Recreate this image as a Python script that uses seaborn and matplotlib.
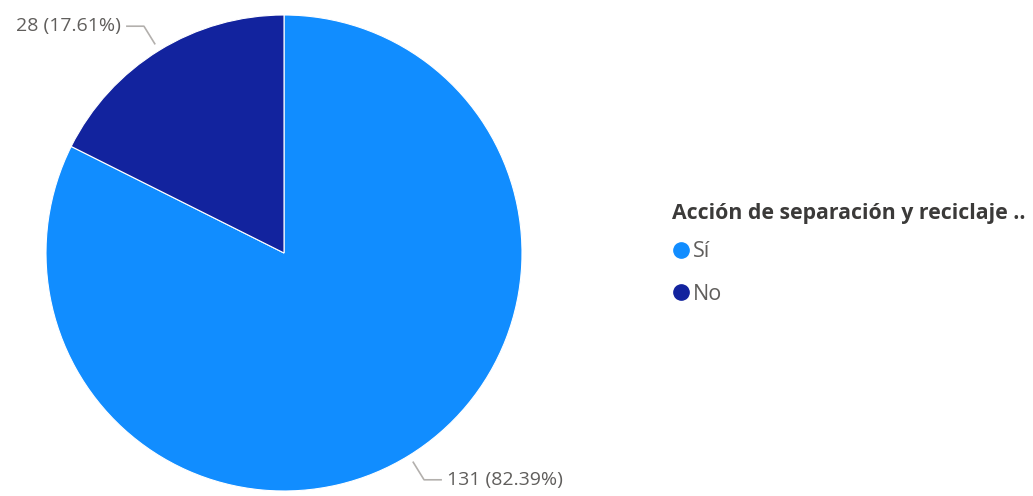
import numpy as np
import matplotlib
matplotlib.use("Agg")
import matplotlib.pyplot as plt
import seaborn as sns
from matplotlib.lines import Line2D

# Data
categories = ["Sí", "No"]
counts = [131, 28]
colors = ["#118DFF", "#12239E"]
legend_title = "Acción de separación y reciclaje .."

sns.set_theme(style="white")
plt.rcParams["font.family"] = ["Open Sans", "DejaVu Sans"]

fig = plt.figure(figsize=(10.33, 4.96), dpi=100)
# axes box sized to the pie (center ~ (284,253) px, radius ~238 px)
ax = fig.add_axes([46 / 1033, 5 / 496, 476 / 1033, 476 / 496])

wedges, _ = ax.pie(counts, colors=colors, startangle=90, counterclock=False,
                   radius=1, wedgeprops=dict(edgecolor="white", linewidth=0.8))
ax.set_xlim(-1, 1)
ax.set_ylim(-1, 1)
ax.set_aspect("equal")
ax.axis("off")

total = sum(counts)
text_color = "#605E5C"
line_color = "#B3B0AD"
for w, c in zip(wedges, counts):
    mid = np.deg2rad((w.theta1 + w.theta2) / 2)
    dx, dy = np.cos(mid), np.sin(mid)
    side = np.sign(dx)
    p0 = (1.03 * dx, 1.03 * dy)
    p1 = (1.12 * dx, 1.12 * dy)
    p2 = (p1[0] + side * 0.075, p1[1])
    ax.plot([p0[0], p1[0], p2[0]], [p0[1], p1[1], p2[1]], color=line_color,
            lw=1.2, clip_on=False, solid_capstyle="butt")
    label = f"{c} ({c / total * 100:.2f}%)"
    ax.text(p2[0] + side * 0.02, p2[1], label, color=text_color, fontsize=14,
            ha="left" if side > 0 else "right", va="center", clip_on=False)

# legend title drawn as its own text, entries as a legend below it
fig.text(672 / 1033, 1 - 213 / 496, legend_title, fontsize=15.3,
         fontweight="bold", color="#3B3A39", ha="left", va="center")

handles = [Line2D([0], [0], marker="o", linestyle="", markersize=11,
                  markerfacecolor=col, markeredgecolor=col) for col in colors]
leg = fig.legend(handles, categories, loc="upper left",
                 bbox_to_anchor=(654 / 1033, 1 - 226 / 496), frameon=False,
                 handletextpad=0.0, labelspacing=1.0,
                 handlelength=1.1, borderpad=0.2, prop={"size": 15.5})
for t in leg.get_texts():
    t.set_color(text_color)

fig.savefig("out.png", dpi=100, facecolor="white")
